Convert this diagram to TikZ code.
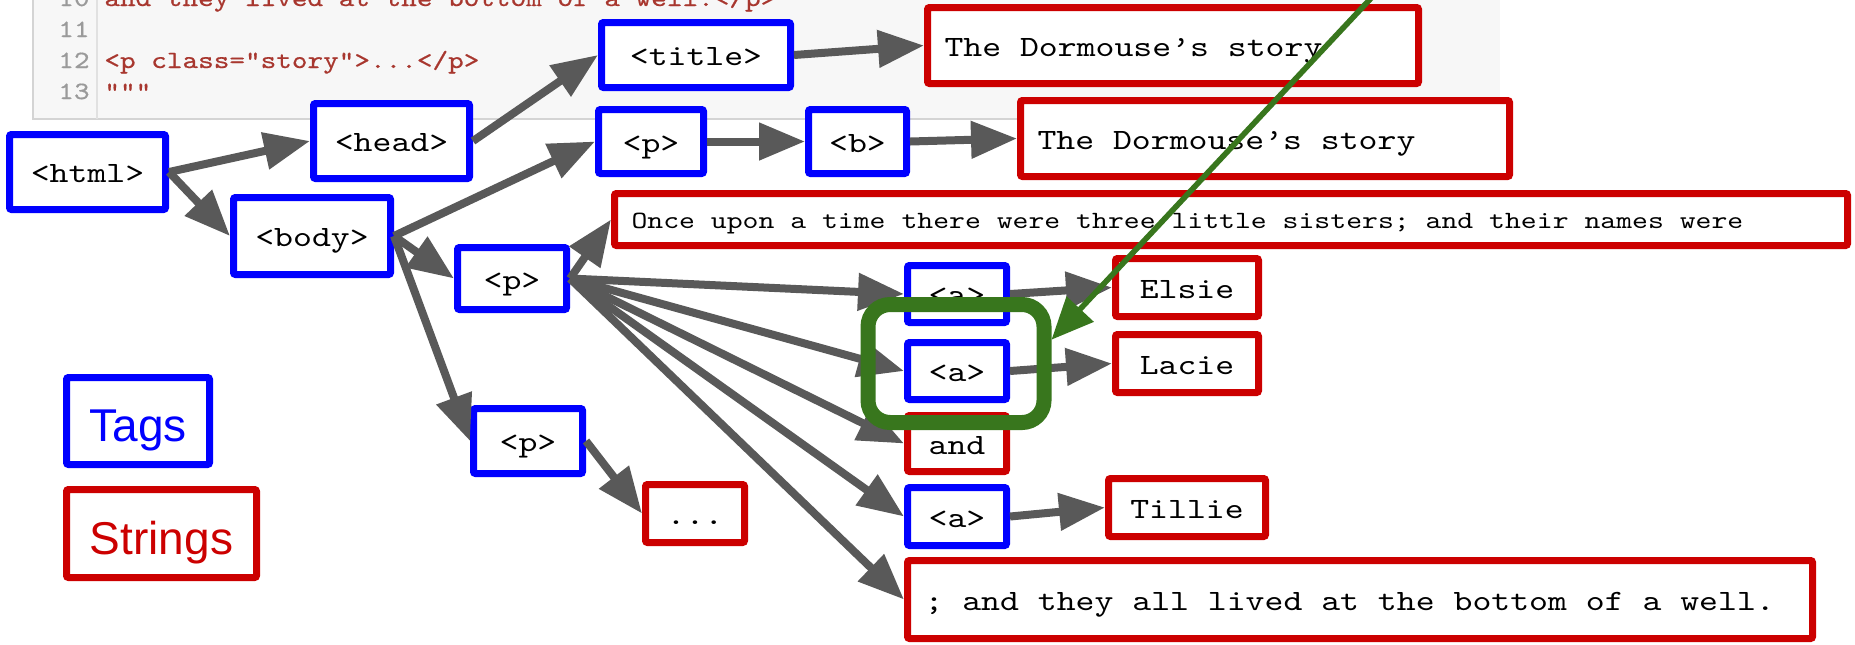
\documentclass[tikz,border=0pt]{standalone}
\usepackage{fontspec}
\usetikzlibrary{arrows.meta}
\newfontfamily\nodemono{lmmono10-regular.otf}[FakeStretch=1.22, Ligatures=TeXOff]
\newfontfamily\codemono{lmmono10-regular.otf}[FakeStretch=1.2, FakeBold=0.6, Ligatures=TeXOff]
\newfontfamily\legendsans{Liberation Sans}
\newcommand\tnodefont{\nodemono\fontsize{14.75pt}{18pt}\selectfont}
\newcommand\toncefont{\nodemono\fontsize{12.4pt}{15pt}\selectfont}
\definecolor{tagblue}{HTML}{0000FF}
\definecolor{strred}{HTML}{CC0000}
\definecolor{arrowgray}{HTML}{595959}
\definecolor{selgreen}{HTML}{38761D}
\definecolor{codered}{HTML}{A8372F}
\definecolor{codenum}{HTML}{9A9A9A}
\definecolor{panelbg}{HTML}{F7F7F7}
\definecolor{panelline}{HTML}{D4D4D4}
\begin{document}
\begin{tikzpicture}[x=0.5pt,y=-0.5pt,
  sz/.style 2 args={minimum width=#1*0.5pt, minimum height=#2*0.5pt},
  tagbox/.style={draw=tagblue, line width=3.5pt, fill=white, rounded corners=1pt,
    inner sep=0pt, font=\tnodefont, text height=10.5pt, text depth=0pt},
  strbox/.style={tagbox, draw=strred},
  leftbox/.style={strbox, align=left, inner xsep=8.5pt,
    execute at begin node={\spaceskip 9.45pt\relax}},
  legendtxt/.style={font=\legendsans\fontsize{23pt}{26pt}\selectfont, text height=20.5pt},
  edge/.style={draw=arrowgray, line width=4pt, -{Triangle[length=23pt,width=18pt]}},
  selbox/.style={draw=selgreen, line width=7.5pt, rounded corners=11pt, inner sep=0pt},
  selarrow/.style={draw=selgreen, line width=2.8pt, -{Triangle[length=21pt,width=18pt]}},
  codetxt/.style={font=\codemono\fontsize{12.4pt}{15pt}\selectfont, inner sep=0pt, anchor=base west, text=codered},
  codenumtxt/.style={font=\codemono\fontsize{12.4pt}{15pt}\selectfont, inner sep=0pt, anchor=base east, text=codenum}
]
\useasboundingbox (0,0) rectangle (1855,644);
\clip (0,0) rectangle (1855,644);

% code panel (screenshot fragment)
\fill[panelbg] (33,-10) rectangle (1500,119);
\draw[panelline, line width=1pt] (33,-10) -- (33,119) -- (1500,119);
\draw[panelline!70, line width=0.8pt] (97,-10) -- (97,119);
\node[codenumtxt] (n10) at (90,6) {10};
\node[codenumtxt] (n11) at (90,37) {11};
\node[codenumtxt] (n12) at (90,68) {12};
\node[codenumtxt] (n13) at (90,99) {13};
\node[codetxt] (c10) at (104,6) {and they lived at the bottom of a well.</p>};
\node[codetxt] (c12) at (104,68) {<p class="story">...</p>};
\node[codetxt] (c13) at (104,99) {"""};

% tree nodes
\node[tagbox, sz={156}{75}] (html) at (87.5,172) {<html>};
\node[tagbox, sz={156}{75}] (head) at (391.5,141) {<head>};
\node[tagbox, sz={189}{65}] (title) at (696,55) {<title>};
\node[leftbox, text width=228.5pt, minimum height=38pt] (d1) at (1173,45.5) {The Dormouse’s story};
\node[tagbox, sz={157}{77}] (body) at (312,236) {<body>};
\node[tagbox, sz={105}{64}] (p1) at (651,141.5) {<p>};
\node[tagbox, sz={98}{64}] (b) at (857.5,141.5) {<b>};
\node[leftbox, text width=227.5pt, minimum height=38pt] (d2) at (1265,138.5) {The Dormouse’s story};
\node[leftbox, text width=599.5pt, minimum height=26pt, font=\toncefont, text height=9pt,
      execute at begin node={\spaceskip 7.94pt\relax}] (once) at (1231,219.5)
      {Once upon a time there were three little sisters; and their names were};
\node[tagbox, sz={109}{62}] (p2) at (512,278.5) {<p>};
\node[tagbox, sz={109}{65}] (p3) at (528,441) {<p>};
\node[strbox, sz={99}{58}] (dots) at (695,513.5) {...};
\node[tagbox, sz={99}{57}] (a1) at (957,294) {<a>};
\node[tagbox, sz={99}{57}] (a2) at (957,371) {<a>};
\node[strbox, sz={99}{56}] (and) at (957,443.5) {and};
\node[tagbox, sz={99}{58}] (a3) at (957,516.5) {<a>};
\node[leftbox, text width=435.5pt, minimum height=39pt] (semi) at (1360,599.5) {; and they all lived at the bottom of a well.};
\node[strbox, sz={143}{58}] (elsie) at (1187,287.5) {Elsie};
\node[strbox, sz={143}{58}] (lacie) at (1187,363.5) {Lacie};
\node[strbox, sz={157}{58}] (tillie) at (1187,507.5) {Tillie};

% legend
\node[tagbox, legendtxt, text=tagblue, sz={143}{87}] (tags) at (138,421) {Tags};
\node[strbox, legendtxt, text=strred, sz={190}{88}] (strings) at (161.5,533.5) {Strings};

% connectors
\draw[edge] (html.east) -- (head.west);
\draw[edge] (html.east) -- (body.west);
\draw[edge] (head.east) -- (title.west);
\draw[edge] (title.east) -- (d1.west);
\draw[edge] (body.east) -- (p1.west);
\draw[edge] (body.east) -- (p2.west);
\draw[edge] (body.east) -- (p3.west);
\draw[edge] (p1.east) -- (b.west);
\draw[edge] (b.east) -- (d2.west);
\draw[edge] (p2.east) -- (once.west);
\draw[edge] (p2.east) -- (a1.west);
\draw[edge] (p2.east) -- (a2.west);
\draw[edge] (p2.east) -- (and.west);
\draw[edge] (p2.east) -- (a3.west);
\draw[edge] (p2.east) -- (semi.west);
\draw[edge] (p3.east) -- (dots.west);
\draw[edge] (a1.east) -- (elsie.west);
\draw[edge] (a2.east) -- (lacie.west);
\draw[edge] (a3.east) -- (tillie.west);

% highlight
\node[selbox, sz={176}{118}] (sel) at (956,363.5) {};
\coordinate (gstart) at (1388,-20);
\draw[selarrow] (gstart) -- (sel.14);
\end{tikzpicture}
\end{document}
